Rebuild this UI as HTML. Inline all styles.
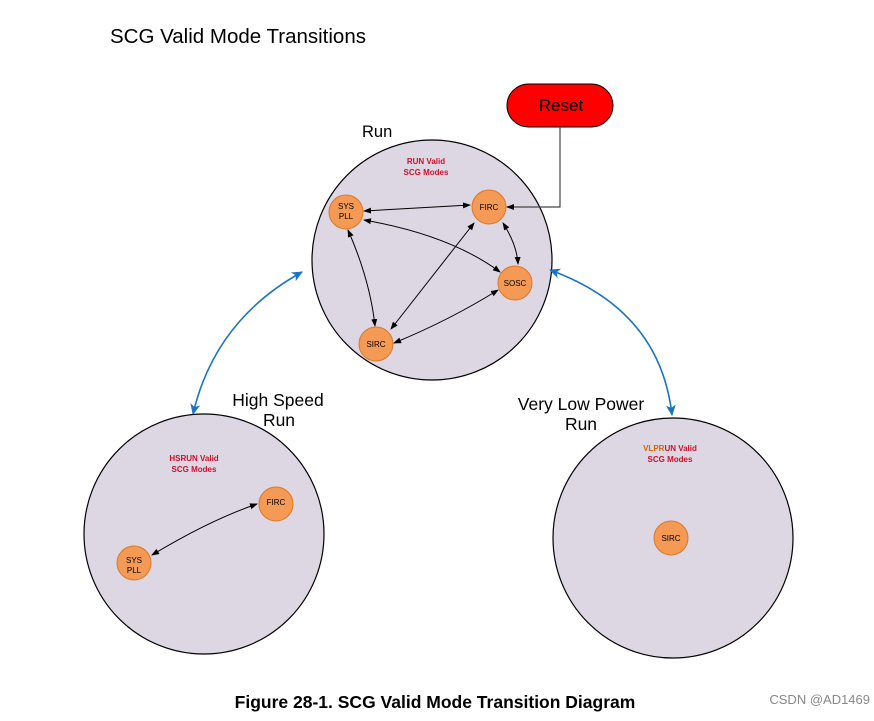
<!DOCTYPE html>
<html><head><style>body{margin:0;background:#fff}</style></head><body>
<svg width="874" height="716" xmlns="http://www.w3.org/2000/svg" font-family="Liberation Sans, sans-serif">
<defs>
<marker id="a" markerWidth="8" markerHeight="8" refX="7" refY="4" orient="auto-start-reverse" markerUnits="userSpaceOnUse"><path d="M0,1 L8,4 L0,7 Z" fill="#000"/></marker>
<marker id="b" markerWidth="12" markerHeight="12" refX="10" refY="6" orient="auto-start-reverse" markerUnits="userSpaceOnUse"><path d="M0,1 L11,6 L0,11 L3,6 Z" fill="#1a73c4"/></marker>
</defs>
<text x="110" y="43" font-size="20.5">SCG Valid Mode Transitions</text>
<circle cx="432" cy="260" r="120" fill="#ddd7e4" stroke="#000" stroke-width="1.2"/>
<circle cx="204" cy="534" r="120" fill="#ddd7e4" stroke="#000" stroke-width="1.2"/>
<circle cx="673" cy="538" r="120" fill="#ddd7e4" stroke="#000" stroke-width="1.2"/>
<text x="362" y="137" font-size="16.5">Run</text>
<text x="278" y="406" font-size="17.5" text-anchor="middle">High Speed</text>
<text x="279" y="426" font-size="17.5" text-anchor="middle">Run</text>
<text x="581" y="410" font-size="17.5" text-anchor="middle">Very Low Power</text>
<text x="581" y="430" font-size="17.5" text-anchor="middle">Run</text>
<rect x="507" y="84" width="106" height="43" rx="21.5" fill="#f00" stroke="#000"/>
<text x="561" y="111" font-size="17" text-anchor="middle">Reset</text>
<polyline points="560,127 560,207 507,207" fill="none" stroke="#444" stroke-width="1.2" marker-end="url(#a)"/>
<g font-size="8" font-weight="bold" fill="#d0102a" text-anchor="middle">
<text x="426" y="164">RUN Valid</text><text x="426" y="175">SCG Modes</text>
<text x="194" y="461">HSRUN Valid</text><text x="194" y="472">SCG Modes</text>
<text x="670" y="451"><tspan fill="#e06000">VLPR</tspan>UN Valid</text><text x="670" y="462">SCG Modes</text>
</g>
<g fill="none" stroke="#000" stroke-width="1" marker-start="url(#a)" marker-end="url(#a)">
<path d="M364,211 L470,205"/>
<path d="M364,220 Q450,235 500,272"/>
<path d="M348,230 Q370,280 375,326"/>
<path d="M474,223 L391,329"/>
<path d="M503,223 Q517,245 518,264"/>
<path d="M394,343 Q450,320 498,290"/>
<path d="M152,555 Q210,520 257,504"/>
</g>
<path d="M302,272 Q215,320 193,414" fill="none" stroke="#1a73c4" stroke-width="1.6" marker-start="url(#b)" marker-end="url(#b)"/>
<path d="M550,270 Q660,310 672,415" fill="none" stroke="#1a73c4" stroke-width="1.6" marker-start="url(#b)" marker-end="url(#b)"/>
<g fill="#f49a55" stroke="#d9782a" stroke-width="1">
<circle cx="346" cy="212" r="17"/><circle cx="489" cy="207" r="17"/><circle cx="515" cy="283" r="17"/><circle cx="376" cy="344" r="17"/>
<circle cx="276" cy="504" r="17"/><circle cx="134" cy="563" r="17"/><circle cx="671" cy="538" r="17"/>
</g>
<g font-size="8" text-anchor="middle">
<text x="346" y="209">SYS</text><text x="346" y="219">PLL</text>
<text x="489" y="210">FIRC</text><text x="515" y="286">SOSC</text><text x="376" y="347">SIRC</text>
<text x="276" y="505">FIRC</text><text x="134" y="563">SYS</text><text x="134" y="573">PLL</text>
<text x="671" y="541">SIRC</text>
</g>
<text x="435" y="708" font-size="17.5" font-weight="bold" text-anchor="middle">Figure 28-1. SCG Valid Mode Transition Diagram</text>
<text x="870" y="704" font-size="13" fill="#888" text-anchor="end">CSDN @AD1469</text>
</svg>
</body></html>
